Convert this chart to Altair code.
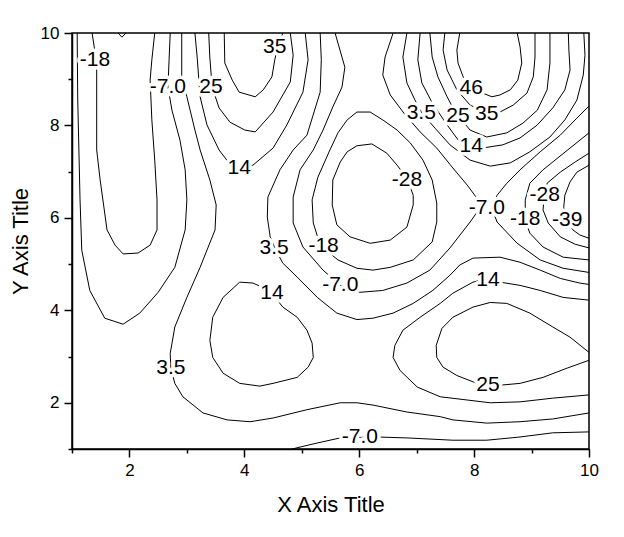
import altair as alt
import pandas as pd

# ---- contour paths: (x, y) in data units ----
c_m39_right = [(10.0,7.14),(9.79,6.99),(9.67,6.78),(9.58,6.49),(9.56,6.23),(9.62,5.95),(9.72,5.74),(9.84,5.63),(10.0,5.56)]
c_m28_top = [(1.80,10.0),(1.87,9.91),(1.94,10.0)]
c_m28_center = [(5.96,7.56),(6.22,7.60),(6.48,7.40),(6.66,7.14),(6.83,6.86),(6.94,6.49),(6.94,6.28),(6.83,5.80),(6.54,5.52),(6.19,5.45),(5.84,5.59),(5.61,5.85),(5.53,6.28),(5.54,6.82),(5.67,7.21),(5.79,7.43),(5.96,7.56)]
c_m28_right = [(10.0,7.40),(9.76,7.21),(9.50,6.99),(9.27,6.75),(9.22,6.45),(9.20,6.17),(9.29,5.89),(9.50,5.59),(9.76,5.43),(10.0,5.35)]
c_m18_left = [(1.35,10.0),(1.40,9.59),(1.43,9.20),(1.43,8.55),(1.43,7.47),(1.49,6.82),(1.61,5.74),(1.75,5.41),(1.89,5.22),(2.15,5.24),(2.36,5.41),(2.48,5.74),(2.48,6.39),(2.44,7.25),(2.39,8.12),(2.36,8.98),(2.39,9.42),(2.44,10.0)]
c_m18_center = [(5.96,8.29),(6.19,8.29),(6.41,8.12),(6.66,7.90),(6.89,7.62),(7.11,7.25),(7.27,6.82),(7.35,6.32),(7.35,5.91),(7.27,5.48),(6.94,5.09),(6.54,4.93),(6.24,4.87),(5.96,4.91),(5.63,5.09),(5.32,5.41),(5.20,5.89),(5.18,6.39),(5.28,6.88),(5.49,7.47),(5.63,7.84),(5.79,8.12),(5.96,8.29)]
c_m18_right = [(10.0,7.84),(9.67,7.51),(9.37,7.21),(9.20,7.04),(8.97,6.75),(8.89,6.39),(8.89,5.95),(8.97,5.67),(9.20,5.37),(9.55,5.15),(10.0,5.09)]
c_m7_left = [(1.09,10.0),(1.10,8.55),(1.12,7.47),(1.14,6.39),(1.17,5.30),(1.31,4.43),(1.57,3.83),(1.89,3.70),(2.18,3.94),(2.50,4.39),(2.79,4.93),(2.97,5.74),(3.00,6.39),(2.97,7.04),(2.88,7.68),(2.74,8.33),(2.67,8.83),(2.69,9.42),(2.71,10.0)]
c_m7_center = [(5.58,10.0),(5.75,9.26),(5.70,8.83),(5.54,8.40),(5.37,7.90),(5.20,7.47),(4.97,7.04),(4.85,6.45),(4.85,5.89),(5.02,5.37),(5.37,4.87),(5.67,4.54),(6.01,4.39),(6.41,4.43),(6.83,4.59),(7.23,4.87),(7.58,5.35),(7.93,5.91),(8.10,6.21),(8.07,6.39),(7.88,6.71),(7.63,7.08),(7.35,7.51),(7.06,7.86),(6.80,8.23),(6.54,8.66),(6.41,9.09),(6.45,9.48),(6.59,10.0)]
c_m7_right = [(10.0,8.42),(9.79,8.16),(9.50,7.79),(9.15,7.43),(8.80,7.04),(8.57,6.75),(8.40,6.49),(8.31,6.21),(8.40,5.91),(8.75,5.45),(9.15,5.09),(9.55,4.91),(10.0,4.82)]
c_m7_bottom = [(4.83,1.00),(5.27,1.13),(5.67,1.24),(6.31,1.26),(6.83,1.24),(7.63,1.19),(8.22,1.19),(8.80,1.26),(9.37,1.35),(10.0,1.37)]
c_p3_left = [(2.91,10.0),(2.91,8.98),(3.00,8.62),(3.14,7.90),(3.23,7.47),(3.40,6.82),(3.51,6.28),(3.49,5.74),(3.23,4.93),(3.00,4.28),(2.79,3.64),(2.71,3.07),(2.72,2.75),(2.79,2.42),(2.93,2.13),(3.28,1.78),(3.70,1.63),(4.10,1.59),(4.50,1.67),(5.09,1.85),(5.67,2.00),(5.96,2.00),(6.24,1.95),(6.83,1.80),(7.41,1.70),(7.63,1.63),(8.22,1.56),(8.80,1.59),(9.37,1.65),(10.0,1.78)]
c_p3_mid = [(5.32,10.0),(5.34,9.42),(5.32,8.72),(5.09,7.79),(4.85,7.47),(4.62,7.04),(4.41,6.45),(4.40,6.02),(4.45,5.59),(4.55,5.30),(4.67,5.02),(4.92,4.72),(5.27,4.28),(5.61,3.94),(5.96,3.80),(6.24,3.83),(6.59,3.94),(6.94,4.15),(7.28,4.43),(7.58,4.76),(7.75,4.98),(7.98,5.13),(8.45,5.15),(8.80,5.04),(9.15,4.87),(9.50,4.69),(9.84,4.59),(10.0,4.56)]
c_p3_right = [(6.83,10.0),(6.76,9.48),(6.83,8.92),(6.97,8.55),(7.09,8.27),(7.32,7.94),(7.58,7.58),(7.93,7.25),(8.28,7.12),(8.63,7.19),(8.97,7.43),(9.32,7.75),(9.58,8.12),(9.79,8.55),(9.90,9.09),(9.93,9.52),(9.91,10.0)]
c_p14_left = [(3.14,10.0),(3.18,9.46),(3.23,8.62),(3.35,8.01),(3.56,7.47),(3.72,7.21),(3.91,7.08),(4.15,7.14),(4.50,7.51),(4.74,8.01),(5.02,8.72),(5.11,9.42),(5.06,10.0)]
c_p14_loop = [(3.92,4.61),(4.15,4.59),(4.31,4.50),(4.48,4.37),(4.67,4.07),(4.92,3.85),(5.09,3.57),(5.18,3.29),(5.20,2.98),(5.11,2.77),(4.92,2.55),(4.50,2.42),(4.27,2.36),(3.92,2.42),(3.63,2.64),(3.45,2.98),(3.40,3.35),(3.45,3.85),(3.63,4.28),(3.92,4.61)]
c_p14_right = [(10.0,4.22),(9.55,4.28),(9.15,4.43),(8.80,4.54),(8.45,4.61),(8.24,4.69),(7.98,4.61),(7.63,4.37),(7.41,4.15),(7.06,3.85),(6.76,3.57),(6.62,3.24),(6.59,2.98),(6.71,2.70),(7.01,2.34),(7.41,2.13),(7.88,2.06),(8.28,2.00),(8.80,2.02),(9.37,2.10),(10.0,2.17)]
c_p14_top = [(7.06,10.0),(7.02,9.42),(7.09,8.92),(7.27,8.49),(7.53,8.01),(7.75,7.64),(7.95,7.53),(8.14,7.51),(8.50,7.58),(8.80,7.73),(9.10,8.01),(9.37,8.38),(9.58,8.77),(9.67,9.20),(9.65,9.63),(9.64,10.0)]
c_p25_left = [(3.38,10.0),(3.40,9.46),(3.44,8.83),(3.56,8.38),(3.75,8.07),(4.01,7.90),(4.19,7.86),(4.50,8.29),(4.80,8.94),(4.85,9.52),(4.80,10.0)]
c_p25_top = [(7.23,10.0),(7.27,9.48),(7.37,9.05),(7.53,8.62),(7.67,8.29),(7.93,7.90),(8.22,7.75),(8.57,7.84),(8.85,8.05),(9.10,8.33),(9.27,8.77),(9.32,9.35),(9.32,10.0)]
c_p25_loop = [(10.0,3.09),(9.67,3.42),(9.37,3.64),(8.97,3.94),(8.57,4.15),(8.28,4.17),(7.98,4.07),(7.63,3.85),(7.44,3.61),(7.34,3.24),(7.35,2.98),(7.46,2.77),(7.70,2.59),(8.05,2.42),(8.24,2.38),(8.45,2.38),(8.80,2.42),(9.20,2.55),(9.62,2.75),(10.0,2.92)]
c_p35_left = [(3.65,10.0),(3.66,9.35),(3.79,8.98),(3.91,8.72),(4.19,8.62),(4.33,8.77),(4.48,9.05),(4.53,9.42),(4.59,9.74),(4.67,10.0)]
c_p35_top = [(7.49,10.0),(7.46,9.63),(7.53,9.20),(7.70,8.77),(7.93,8.44),(8.22,8.27),(8.45,8.29),(8.68,8.44),(8.92,8.70),(9.03,9.05),(9.06,9.48),(9.06,10.0)]
c_p46_top = [(7.75,10.0),(7.70,9.63),(7.72,9.35),(7.81,9.05),(7.93,8.87),(8.15,8.70),(8.31,8.62),(8.45,8.66),(8.63,8.77),(8.76,8.98),(8.83,9.35),(8.80,9.70),(8.75,10.0)]

contours = [
    ("-39", c_m39_right), ("-28", c_m28_top), ("-28", c_m28_center), ("-28", c_m28_right),
    ("-18", c_m18_left), ("-18", c_m18_center), ("-18", c_m18_right),
    ("-7.0", c_m7_left), ("-7.0", c_m7_center), ("-7.0", c_m7_right), ("-7.0", c_m7_bottom),
    ("3.5", c_p3_left), ("3.5", c_p3_mid), ("3.5", c_p3_right),
    ("14", c_p14_left), ("14", c_p14_loop), ("14", c_p14_right), ("14", c_p14_top),
    ("25", c_p25_left), ("25", c_p25_top), ("25", c_p25_loop),
    ("35", c_p35_left), ("35", c_p35_top), ("46", c_p46_top),
]

# ---- contour labels ----
label_text = ["-18", "-7.0", "25", "35", "14", "46", "3.5", "25", "35", "14", "-28", "-7.0",
              "-28", "-18", "-39", "3.5", "-18", "14", "-7.0", "14", "3.5", "25", "-7.0"]
label_x = [1.40, 2.67, 3.42, 4.53, 3.91, 7.95, 7.08, 7.72, 8.22, 7.95, 6.83, 8.22,
           9.23, 8.89, 9.62, 4.52, 5.38, 4.48, 5.67, 8.24, 2.72, 8.24, 6.01]
label_y = [9.42, 8.83, 8.83, 9.70, 7.08, 8.82, 8.27, 8.20, 8.25, 7.55, 6.83, 6.22,
           6.49, 5.97, 5.95, 5.35, 5.39, 4.37, 4.54, 4.66, 2.75, 2.38, 1.26]

rows = []
for i, (lvl, pts) in enumerate(contours):
    for j, (x, y) in enumerate(pts):
        rows.append({"x": x, "y": y, "path": i, "order": j, "level": lvl})
df = pd.DataFrame(rows)
labels = pd.DataFrame({"x": label_x, "y": label_y, "t": label_text})

FONT = "Liberation Sans"
xs = alt.Scale(domain=[1, 10], nice=False, zero=False)
ys = alt.Scale(domain=[1, 10], nice=False, zero=False)
major = "datum.value % 2 == 0"
tick_size = {"condition": {"test": major, "value": 8}, "value": 4}

x_axis = alt.Axis(title="X Axis Title", values=list(range(1, 11)), format="d",
                  labelExpr=f"{major} ? datum.label : ''", tickSize=tick_size,
                  labelPadding=5, titlePadding=16, labelFlush=False, labelOverlap=False, grid=False)
y_axis = alt.Axis(title="Y Axis Title", values=list(range(1, 11)), format="d",
                  labelExpr=f"{major} ? datum.label : ''", tickSize=tick_size,
                  labelPadding=5, titlePadding=8, labelFlush=False, labelOverlap=False, grid=False)

lines = alt.Chart(df).mark_line(color="black", strokeWidth=1).encode(
    x=alt.X("x:Q", scale=xs, axis=x_axis),
    y=alt.Y("y:Q", scale=ys, axis=y_axis),
    detail="path:N",
    order="order:Q",
)

halo = alt.Chart(labels).mark_text(font=FONT, fontSize=21, color="white", stroke="white",
                                   strokeWidth=7, strokeJoin="round", baseline="middle").encode(
    x=alt.X("x:Q", scale=xs), y=alt.Y("y:Q", scale=ys), text="t:N")
text = alt.Chart(labels).mark_text(font=FONT, fontSize=21, color="black", baseline="middle").encode(
    x=alt.X("x:Q", scale=xs), y=alt.Y("y:Q", scale=ys), text="t:N")

chart = alt.layer(lines, halo, text).properties(
    width=517, height=416,
    autosize=alt.AutoSizeParams(type="none"),
    padding={"left": 64, "top": 25, "right": 20, "bottom": 70},
).configure_view(stroke="black", strokeWidth=1.5).configure_axis(
    domainColor="black", domainWidth=1.5, tickColor="black", tickWidth=1.5,
    labelFont=FONT, labelFontSize=17, labelColor="black",
    titleFont=FONT, titleFontSize=22, titleFontWeight="normal", titleColor="black",
)

chart.save("out.html", embed_options={"renderer": "svg", "actions": False})
